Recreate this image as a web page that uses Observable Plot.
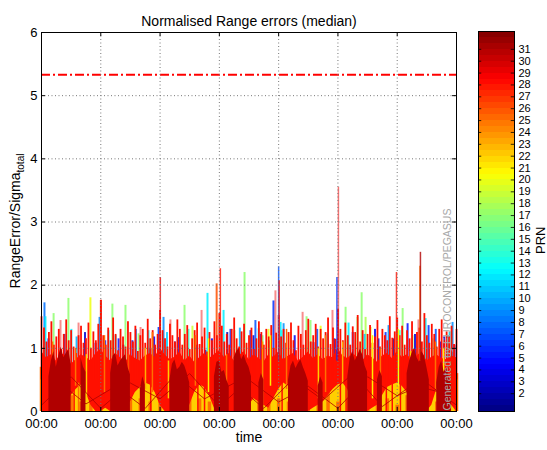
<!DOCTYPE html>
<html><head><meta charset="utf-8">
<script src="https://cdn.jsdelivr.net/npm/d3@7"></script>
<script src="https://cdn.jsdelivr.net/npm/@observablehq/plot@0.6"></script>
<style>
body{margin:0;background:#fff;}
#wrap{position:relative;width:547px;height:450px;overflow:hidden;font-family:"Liberation Sans",Arial,sans-serif;}
#wrap svg{position:absolute;top:0;}
</style></head><body><div id="wrap"></div>
<script>
// ---- texts ----
const title = "Normalised Range errors (median)";
const yLabelMain = "RangeError/Sigma";
const yLabelSub = "total";
const xLabel = "time";
const cbLabel = "PRN";
const watermark = "Generated by EUROCONTROL/PEGASUS";
// ---- ticks (hours) ----
const dayTicks = [0, 24, 48, 72, 96, 120, 144, 168];
const dayTickLabel = "00:00";
const yTicks = [0, 1, 2, 3, 4, 5, 6];
const prnTicks = [2,3,4,5,6,7,8,9,10,11,12,13,14,15,16,17,18,19,20,21,22,23,24,25,26,27,28,29,30,31];
const prnDomain = [0.5, 32.5];
const threshold = 5.33;
// PRN of the main colour layers
const PRN_YELLOW = 22, PRN_ORANGE = 25, PRN_RED = 28, PRN_DARK = 31;
const _ = null;

// red peaks, hourly (t = 0..168)
const redSpike = [
 1.50,1.32,1.10,1.25,1.42,1.05,1.18,1.30,0.98,1.22,1.45,1.12,1.28,1.02,0.92,1.20,1.35,1.08,1.15,1.40,1.00,1.26,1.12,1.38,
 1.76,1.20,1.05,1.32,1.12,1.48,1.22,0.96,1.30,1.18,1.02,1.42,1.25,1.10,1.35,0.95,1.20,1.30,1.08,1.46,1.15,1.28,1.05,1.22,
 1.60,1.28,1.15,1.02,1.38,1.20,1.10,1.45,1.30,1.05,1.22,1.36,0.98,1.15,1.28,1.40,1.06,1.18,1.32,0.94,1.25,1.12,1.42,1.20,
 1.55,1.35,1.10,1.22,1.05,1.30,1.48,1.15,1.02,1.26,1.38,1.08,1.20,1.32,0.98,1.15,1.42,1.25,1.05,1.30,1.18,1.36,1.00,1.24,
 1.52,1.18,1.30,1.08,1.25,1.40,1.12,0.96,1.35,1.22,1.05,1.28,1.46,1.10,1.20,1.38,1.02,1.30,1.15,1.25,1.48,1.06,1.32,1.14,
 1.62,1.30,1.12,1.40,1.20,1.05,1.34,1.25,1.52,1.10,1.28,0.98,1.22,1.36,1.08,1.18,1.44,1.02,1.30,1.20,1.12,1.50,1.16,1.26,
 1.48,1.20,1.35,1.05,1.28,1.15,1.42,0.98,1.25,1.32,1.10,1.55,1.20,1.08,1.38,1.22,1.02,1.30,1.45,1.12,1.26,1.18,1.35,1.06,
 1.30];
// red solid body, every 2 h
const redBody = [
 0.95,0.85,0.90,0.80,0.92,0.88,0.75,0.82,0.90,0.86,0.80,0.92,
 0.98,0.88,0.80,0.92,0.85,0.78,0.90,0.84,0.80,0.88,0.92,0.86,
 1.00,0.90,0.82,0.86,0.94,0.80,0.88,0.78,0.85,0.92,0.84,0.90,
 0.96,0.86,0.92,0.80,0.88,0.95,0.82,0.90,0.84,0.78,0.90,0.86,
 0.94,0.82,0.88,0.92,0.80,0.86,0.94,0.84,0.90,0.82,0.88,0.85,
 1.00,0.88,0.84,0.92,0.86,0.80,0.90,0.85,0.78,0.88,0.92,0.84,
 0.95,0.86,0.90,0.82,0.88,0.94,0.80,0.86,0.90,0.84,0.82,0.88,
 0.85];
const redLow = [
 0,0,0,0.05,0,0.1,0.25,0.35,0.42,0.3,0.1,0,
 0,0.05,0,0,0,0.1,0.15,0.3,0.38,0.45,0.42,0.3,
 0.1,0,0,0,0,0.05,0.1,0.3,0.42,0.38,0.25,0.05,
 0,0,0,0,0,0.05,0.1,0.2,0.15,0.1,0.05,0.2,
 0.35,0.45,0.4,0.2,0,0,0,0.05,0.1,0.15,0.25,0.35,
 0.42,0.45,0.35,0.1,0,0,0,0.05,0.1,0.25,0.38,0.42,
 0.45,0.4,0.3,0.05,0,0,0,0.1,0.35,0.4,0.25,0.1,
 0];
// dark red passes, hourly (null = no data)
const darkHourly = [
 _,_,_, 0.55,0.80,0.95,0.70,0.88,1.02,0.85,0.92,0.98,0.75, _,_,_, 0.85,0.70,0.62,
 _,_,_,_,_,_,_,_,_, 0.60,0.88,0.92,0.72,0.80,0.85,0.90,0.70,0.58, _,_,_, 0.35,0.55,0.42,
 _,_,_,_,_,_,_,_,_, 0.50,0.75,0.82,0.66,0.70,0.78,0.72,0.60,0.45,
 _,_,_,_,_,_,_,_,_, 0.55,0.78,0.80,0.62,0.65,0.50,0.40, _, 0.85,0.95,1.00,0.82,0.90,0.78,0.70,0.55, _,_, 0.45,0.60,0.50,
 _,_,_,_,_,_,_,_,_, 0.50,0.72,0.80,0.68,0.76,0.82,0.70,0.60,0.48, _,_,_, 0.40,0.55,0.45,
 _,_,_,_,_,_,_,_,_, 0.55,0.85,0.95,0.80,0.88,0.98,0.90,0.72,0.62, _,_,_, 0.50,0.65,0.55,
 _,_,_,_,_,_,_,_,_, 0.60,0.80,0.92,1.00,0.85,0.78,0.95,0.88,0.70,0.50, _,_, 0.45,0.70,0.80,0.62,0.70,0.55,0.40, _,_];
// yellow / orange bottom layers, every 4 h
const yellowTop = [0.45,0.35,0.50,0.40,0.55,0.45,0.38,0.50,0.42,0.35,0.52,0.48,0.40,0.36,0.50,0.44,0.55,0.48,0.38,0.42,0.50,0.36,0.46,0.40,0.52,0.55,0.42,0.38,0.48,0.50,0.55,0.45,0.36,0.40,0.50,0.55,0.48,0.42,0.38,0.50,0.52,0.46,0.40];
const orangeTop = [0.70,0.80,0.60,0.25,0.15,0.50,0.75,0.60,0.80,0.50,0.20,0.15,0.60,0.70,0.55,0.65,0.20,0.15,0.70,0.60,0.80,0.50,0.45,0.60,0.20,0.15,0.70,0.65,0.50,0.30,0.15,0.20,0.75,0.60,0.50,0.20,0.10,0.25,0.70,0.60,0.15,0.30,0.60];
// thin dark-red connecting lines (every 12 h, two series offset by 6 h)
const darkLineA = [0.10,0.55,0.05,0.45,0.20,0.60,0.08,0.50,0.15,0.40,0.05,0.55,0.25,0.45,0.10];
const darkLineB = [0.50,0.12,0.40,0.05,0.58,0.20,0.45,0.05,0.52,0.18,0.60,0.08,0.42,0.30];
// coloured peaks above / inside the bulk
const fringeT = [1.2,1.6,4.9,7.7,10.9,12.1,15.0,19.8,21.9,23.5,27.1,28.7,31.2,34.0,36.8,39.3,40.1,43.3,44.1,47.4,49.4,52.2,55.5,57.9,61.1,64.8,66.4,67.2,70.9,73.7,76.5,78.1,82.2,84.6,85.8,86.6,87.9,89.5,91.9,93.9,94.7,96.8,98.0,100.8,105.7,107.3,108.9,110.1,113.0,115.8,117.8,123.1,124.3,127.9,129.6,131.2,133.2,136.4,139.3,140.5,146.2,148.2,150.2,152.6,155.5,156.7,158.3,161.5,164.4,166.4,167.2,
 2.8,9.3,14.2,17.6,25.8,30.0,33.1,38.2,45.6,50.8,54.0,59.5,63.0,69.0,75.2,80.3,88.8,92.6,97.2,102.5,111.6,118.6,126.0,130.8,135.0,142.3,145.0,151.2,159.6,163.0,165.2];
const fringePrn = [8,12,17,29,17,12,29,20,3,9,12,17,5,17,4,17,29,12,3,6,9,29,5,17,19,29,3,12,26,12,6,17,17,6,3,7,12,17,20,6,29,12,9,19,29,17,17,4,20,12,29,17,12,17,17,18,20,3,6,9,17,5,17,29,12,6,17,4,12,9,5,
 4,6,10,3,5,13,2,8,4,11,3,14,5,4,2,10,5,3,13,4,7,3,5,11,4,2,14,3,7,3,11];
const fringeV = [1.72,1.50,1.55,1.44,1.79,1.30,1.40,1.80,1.08,1.49,1.28,1.70,1.15,1.68,1.12,1.23,1.33,1.28,1.00,1.33,1.49,1.45,1.17,1.68,1.35,1.60,0.97,1.87,2.02,1.60,1.30,1.28,2.20,1.28,1.20,1.44,1.31,1.20,1.30,1.75,1.91,1.41,1.39,1.25,1.57,1.50,1.44,1.09,1.35,1.23,1.60,1.65,1.40,1.49,1.88,1.49,1.33,1.15,1.25,1.36,1.63,1.39,1.20,1.45,1.47,1.36,1.15,1.10,1.20,1.41,1.05,
 1.15,1.22,1.18,1.25,1.12,1.20,1.05,1.30,1.18,1.25,1.10,1.30,1.05,1.15,1.25,1.32,1.22,1.12,1.28,1.20,1.30,1.15,1.25,1.22,1.30,1.15,1.28,1.22,1.30,1.18,1.25];
// streaks inside the bulk (orange / yellow / red)
const midT = [4.5,6.5,13.2,13.8,15.0,18.2,25.5,35.2,41.5,42.1,44.2,44.9,51.4,62.3,63.3,66.0,67.6,74.9,89.5,92.7,97.4,99.2,100.1,112.1,115.0,121.0,121.9,123.3,134.0,137.2,139.6,142.0,144.5,145.3,149.4,159.5,161.0,162.8];
const midPrn = [25,23,28,25,25,22,25,26,28,23,28,25,22,25,28,28,21,25,24,21,28,25,28,22,25,28,23,28,21,25,28,28,20,28,22,25,28,21];
const midLo = [0.30,0.20,0,0.40,0,0.10,0.30,0.20,0,0.35,0,0.30,0.20,0.40,0,0,0.30,0.20,0.10,0.40,0,0.35,0,0.20,0.30,0,0.45,0,0.20,0.30,0,0,0.40,0,0.20,0.35,0,0.20];
const midHi = [1.10,0.70,0.55,1.00,0.45,0.90,1.20,0.90,0.60,1.00,0.50,1.25,0.80,1.20,0.55,0.70,1.15,0.90,1.10,1.20,0.60,1.30,0.50,1.00,1.20,0.65,1.10,0.50,1.20,1.00,0.60,0.50,1.30,0.70,0.95,1.10,0.55,1.00];
// isolated tall peaks
const tallT = [24.2, 48.1, 72.4, 96.0, 96.2, 119.6, 120.2, 143.7, 153.2, 153.4];
const tallPrn = [28, 29, 28, 7, 28, 6, 29, 28, 25, 31];
const tallV = [1.76, 2.12, 2.26, 2.29, 2.07, 2.12, 3.55, 2.20, 2.30, 2.52];

// ---- jet colormap ----
const jet = d3.scaleLinear()
  .domain([0, 0.125, 0.375, 0.625, 0.875, 1])
  .range(["#000080", "#0000ff", "#00ffff", "#ffff00", "#ff0000", "#800000"])
  .interpolate(d3.interpolateRgb).clamp(true);
const colorScale = {type: "linear", domain: prnDomain, interpolate: t => jet(t)};

// ---- tables ----
const rows2 = redBody.map((v, i) => ({t: i * 2, lo: redLow[i], hi: v}));
const rowsH = redSpike.map((v, i) => ({t: i, v, dk: darkHourly[i] == null ? NaN : darkHourly[i]}));
const rows4 = yellowTop.map((v, i) => ({t: i * 4, y: v, o: orangeTop[i]}));
const linesA = darkLineA.map((v, i) => ({t: i * 12, v}));
const linesB = darkLineB.map((v, i) => ({t: 6 + i * 12, v}));
const fringe = fringeT.map((t, i) => ({t, prn: fringePrn[i], v: fringeV[i]}));
const mids = midT.map((t, i) => ({t, prn: midPrn[i], lo: midLo[i], hi: midHi[i]}));
const talls = tallT.map((t, i) => ({t, prn: tallPrn[i], v: tallV[i]}));

const font = "'Liberation Sans', Arial, Helvetica, sans-serif";

const main = Plot.plot({
  width: 547, height: 450,
  marginLeft: 41, marginRight: 91, marginTop: 32, marginBottom: 39,
  style: {fontFamily: font, fontSize: "13px", background: "white", color: "black"},
  x: {domain: [0, 168], ticks: dayTicks, tickFormat: () => dayTickLabel, tickSize: 0, tickPadding: 7, label: null},
  y: {domain: [0, 6], ticks: yTicks, tickFormat: d => String(d), tickSize: 0, tickPadding: 4, label: null},
  color: colorScale,
  marks: [
    Plot.areaY(rows4, {x: "t", y1: 0, y2: "y", fill: () => PRN_YELLOW}),
    Plot.ruleX(rows4, {x: "t", y1: 0, y2: "o", stroke: () => PRN_ORANGE, strokeWidth: 3.5}),
    Plot.ruleX(fringe, {x: "t", y1: 0.5, y2: "v", stroke: "prn", strokeWidth: 2, strokeOpacity: d => d.prn >= 28 ? 0.45 : 0.85}),
    Plot.areaY(rows2, {x: "t", y1: "lo", y2: "hi", fill: () => PRN_RED}),
    Plot.ruleX(rowsH, {x: "t", y1: 0.5, y2: "v", stroke: () => PRN_RED, strokeWidth: 1.8}),
    Plot.ruleX(mids, {x: "t", y1: "lo", y2: "hi", stroke: "prn", strokeWidth: 1.5}),
    Plot.areaY(rowsH, {x: "t", y1: 0, y2: "dk", fill: () => PRN_DARK}),
    Plot.line(linesA, {x: "t", y: "v", stroke: () => PRN_DARK, strokeWidth: 0.8}),
    Plot.line(linesB, {x: "t", y: "v", stroke: () => PRN_DARK, strokeWidth: 0.8}),
    Plot.ruleX(talls, {x: "t", y1: 0.8, y2: "v", stroke: "prn", strokeWidth: 1.5, strokeOpacity: d => d.v > 3 ? 0.55 : 0.8}),
    Plot.ruleY([threshold], {stroke: "#ff0000", strokeWidth: 2, strokeDasharray: "9,3,2,3"}),
    Plot.ruleX(dayTicks.slice(1, -1), {stroke: "#777", strokeWidth: 1, strokeDasharray: "1,2.5"}),
    Plot.ruleY(yTicks.slice(1, -1), {stroke: "#777", strokeWidth: 1, strokeDasharray: "1,2.5"}),
    Plot.ruleX(dayTicks, {y1: 0, y2: 0.065, stroke: "#000"}),
    Plot.ruleX(dayTicks, {y1: 5.935, y2: 6, stroke: "#000"}),
    Plot.ruleY(yTicks, {x1: 0, x2: 1.6, stroke: "#000"}),
    Plot.ruleY(yTicks, {x1: 166.4, x2: 168, stroke: "#000"}),
    Plot.text([watermark], {frameAnchor: "bottom-right", rotate: -90, textAnchor: "start", dx: -5.5, dy: -1, fontSize: 10.5, fill: "#a8a8a8"}),
    Plot.frame({stroke: "#000"}),
    Plot.text([title], {frameAnchor: "top", dy: -16, fontSize: 14, fill: "#000"}),
    Plot.text([xLabel], {frameAnchor: "bottom", dy: 30, fontSize: 14, fill: "#000"})
  ]
});
main.style.left = "0px";
const ylab = d3.select(main).append("text")
  .attr("transform", "translate(20,221) rotate(-90)")
  .attr("text-anchor", "middle").attr("font-size", 14).attr("fill", "#000")
  .attr("font-family", font);
ylab.append("tspan").text(yLabelMain);
ylab.append("tspan").attr("font-size", 10).attr("dy", 4).text(yLabelSub);

const cbLevels = d3.range(64).map(i => prnDomain[0] + i * 0.5);
const cb = Plot.plot({
  width: 77, height: 450,
  marginLeft: 8, marginRight: 33, marginTop: 31, marginBottom: 39,
  style: {fontFamily: font, fontSize: "11px", background: "transparent", color: "black"},
  x: {domain: [0, 1], axis: null},
  y: {domain: prnDomain, ticks: prnTicks, tickSize: 0, tickPadding: 4, axis: "right", label: null},
  color: colorScale,
  marks: [
    Plot.rect(cbLevels, {x1: 0, x2: 1, y1: d => d, y2: d => d + 0.5, fill: d => d + 0.25, shapeRendering: "crispEdges"}),
    Plot.ruleY(prnTicks, {x1: 0, x2: 0.09, stroke: "#000", strokeWidth: 0.8}),
    Plot.ruleY(prnTicks, {x1: 0.91, x2: 1, stroke: "#000", strokeWidth: 0.8}),
    Plot.frame({stroke: "#000"}),
    Plot.text([cbLabel], {frameAnchor: "right", rotate: -90, dx: 26, dy: 5, fontSize: 13, fill: "#000"})
  ]
});
cb.style.left = "470px";
document.getElementById("wrap").append(main, cb);
</script>
</body></html>
